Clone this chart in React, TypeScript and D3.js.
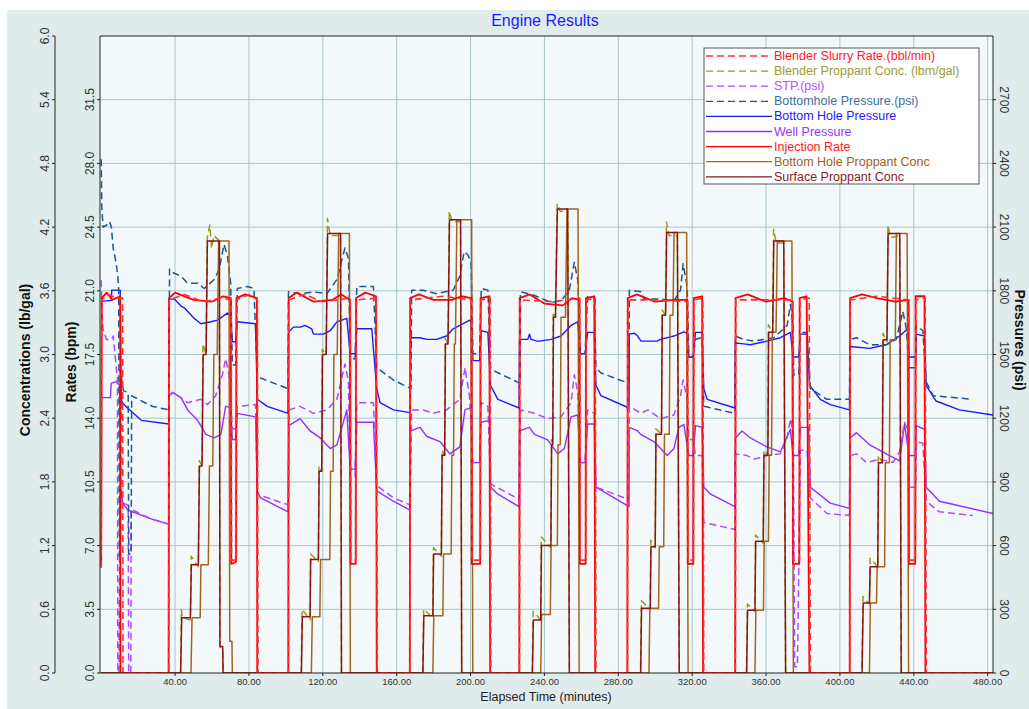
import React from 'react';
import * as d3 from 'd3';

type Pt = [number, number];

// ---- axis ticks ----
const timeTicks = [40, 80, 120, 160, 200, 240, 280, 320, 360, 400, 440, 480];
const rateTicks = [0, 3.5, 7, 10.5, 14, 17.5, 21, 24.5, 28, 31.5];
const concTicks = [0, 0.6, 1.2, 1.8, 2.4, 3.0, 3.6, 4.2, 4.8, 5.4, 6.0];
const pressureTicks = [0, 300, 600, 900, 1200, 1500, 1800, 2100, 2400, 2700];

// ---- series (time in minutes) ----
const blenderSlurryRate: Pt[] = [
  [0, 5.8], [0.3, 20.5], [4, 20.8], [8, 20.6], [11.6, 20.6], [11.8, 0],
  [36.6, 0], [36.8, 20.5], [45, 20.8], [55, 20.4], [65, 20.6], [70.4, 20.5], [70.6, 6.2], [73.2, 6.2], [73.4, 20.5], [80, 20.8], [84.6, 20.5], [84.9, 0],
  [101.4, 0], [101.6, 20.5], [110, 20.8], [120, 20.4], [134.9, 20.6], [135.2, 6.2], [137.9, 6.2], [138.2, 20.5], [149, 20.6], [149.5, 0],
  [167.2, 0], [167.4, 20.5], [185, 20.7], [200.5, 20.5], [200.8, 6.2], [205.3, 6.2], [205.6, 20.5], [210.6, 20.6], [211, 0],
  [226.5, 0], [226.7, 20.5], [245, 20.4], [259.1, 20.6], [259.4, 6.2], [262.4, 6.2], [262.7, 20.5], [267.5, 20.6], [267.9, 0],
  [285, 0], [285.2, 20.5], [300, 20.5], [317.5, 20.4], [317.8, 6.2], [320.7, 6.2], [321, 20.5], [325.8, 20.6], [326.3, 0],
  [343.4, 0], [343.6, 20.5], [360, 20.5], [374.5, 20.5], [374.8, 6.2], [378.1, 6.2], [378.4, 20.5], [383.4, 20.6], [384, 0],
  [405.4, 0], [405.6, 20.5], [420, 20.7], [437.3, 20.5], [437.6, 6.2], [440.9, 6.2], [441.2, 20.5], [446.2, 20.6], [446.8, 0], [482.9, 0],
];

const injectionRate: Pt[] = [
  [0, 5.8], [0.3, 20.6], [3, 20.9], [6, 20.5], [10.3, 20.7], [10.4, 0],
  [36.5, 0], [36.7, 20.6], [40, 20.9], [50, 20.5], [60, 20.4], [66, 20.7], [70.2, 20.6], [70.4, 6.0], [73.0, 6.1], [73.2, 20.6], [78, 20.8], [84.3, 20.6], [84.5, 0],
  [101.3, 0], [101.5, 20.6], [106, 20.9], [115, 20.4], [125, 20.5], [130, 20.8], [134.8, 20.5], [135, 6.0], [137.8, 6.0], [138, 20.6], [143, 20.9], [148.8, 20.7], [149.2, 0],
  [167.1, 0], [167.3, 20.6], [172, 20.8], [180, 20.5], [190, 20.5], [195, 20.7], [200.4, 20.6], [200.6, 6.0], [205.2, 6.0], [205.4, 20.6], [210.2, 20.7], [210.6, 0],
  [226.4, 0], [226.6, 20.6], [232, 20.8], [240, 20.3], [250, 20.2], [255, 20.6], [259, 20.5], [259.2, 6.0], [262.3, 6.0], [262.5, 20.6], [267, 20.7], [267.5, 0],
  [284.9, 0], [285.1, 20.6], [290, 20.8], [300, 20.4], [310, 20.5], [317.4, 20.5], [317.6, 6.0], [320.6, 6.0], [320.8, 20.6], [325.4, 20.7], [325.9, 0],
  [343.3, 0], [343.5, 20.6], [350, 20.8], [360, 20.4], [370, 20.6], [374.4, 20.4], [374.6, 6.0], [378, 6.0], [378.2, 20.6], [382, 20.7], [383.5, 0],
  [405.3, 0], [405.5, 20.6], [412, 20.8], [420, 20.6], [430, 20.4], [437.2, 20.5], [437.4, 6.0], [440.8, 6.0], [441, 20.7], [445.8, 20.7], [446.3, 0], [482.9, 0],
];

const blenderProppantConc: Pt[] = [
  [0, 0], [43.0, 0], [43.4, 0.6], [44, 0.52], [48.3, 0.5], [48.7, 1.1], [52.6, 1.0], [53.1, 2.0], [54.6, 1.95], [55.1, 3.1], [56.8, 3.0], [57.4, 4.1], [58.8, 4.22], [59.8, 4.0], [61, 4.12], [64, 4.07], [64.3, 0.25], [65.8, 0.2], [66, 0],
  [108.3, 0], [108.8, 0.6], [113.1, 0.5], [113.4, 1.12], [117.6, 1.05], [117.9, 1.95], [119.4, 1.9], [119.7, 3.05], [121.8, 3.0], [122.5, 4.28], [124, 4.12], [129.6, 4.12], [130.1, 0],
  [174.1, 0], [174.6, 0.6], [179.6, 0.52], [179.9, 1.18], [184.2, 1.1], [184.5, 2.1], [186, 2.05], [186.3, 3.15], [187.8, 3.1], [188.5, 4.35], [190, 4.25], [194.6, 4.25], [195.2, 0],
  [233.4, 0], [233.9, 0.58], [238, 0.5], [238.3, 1.28], [243.5, 1.18], [243.8, 2.2], [244.5, 2.15], [244.8, 3.4], [246, 3.35], [246.9, 4.42], [248.5, 4.35], [252.6, 4.35], [253.5, 0],
  [292, 0], [292.5, 0.68], [297.3, 0.6], [297.6, 1.25], [300, 1.18], [300.3, 2.3], [303.4, 2.25], [303.7, 3.42], [305.6, 3.37], [306.1, 4.25], [307.5, 4.12], [312, 4.12], [313, 0],
  [349.4, 0], [349.9, 0.65], [354, 0.58], [354.3, 1.3], [358.5, 1.22], [358.8, 2.1], [361, 2.05], [361.3, 3.28], [363.6, 3.2], [364.1, 4.18], [365.5, 4.05], [369.6, 4.05], [370.6, 0],
  [411.9, 0], [412.5, 0.72], [416, 0.65], [416.3, 1.08], [420.5, 1.0], [420.8, 2.05], [423, 1.98], [423.3, 3.2], [425.5, 3.12], [426, 4.22], [427.5, 4.1], [432.4, 4.12], [433.2, 0], [482.9, 0],
];

const surfaceProppantConc: Pt[] = [
  [0, 0], [43.0, 0], [43.6, 0.52], [48.3, 0.52], [48.8, 1.02], [52.6, 1.02], [53.2, 1.95], [54.6, 1.95], [55.2, 3.0], [56.8, 3.0], [57.5, 4.07], [64.0, 4.07], [64.3, 0.25], [65.8, 0.25], [66.0, 0],
  [108.4, 0], [108.9, 0.53], [113.1, 0.53], [113.4, 1.07], [117.6, 1.07], [118, 1.9], [119.4, 1.9], [119.8, 3.0], [121.8, 3.0], [122.6, 4.14], [129.6, 4.14], [130.1, 0],
  [174.2, 0], [174.7, 0.54], [179.6, 0.54], [180, 1.12], [184.2, 1.12], [184.6, 2.05], [186, 2.05], [186.4, 3.1], [187.8, 3.1], [188.6, 4.27], [194.6, 4.27], [195.2, 0],
  [233.5, 0], [234, 0.5], [238, 0.5], [238.4, 1.2], [243.5, 1.2], [243.9, 2.15], [244.5, 2.15], [244.9, 3.35], [246, 3.35], [247, 4.37], [252.6, 4.37], [253.5, 0],
  [292.1, 0], [292.6, 0.61], [297.3, 0.61], [297.7, 1.19], [300, 1.19], [300.4, 2.25], [303.4, 2.25], [303.8, 3.37], [305.6, 3.37], [306.2, 4.15], [312, 4.15], [313, 0],
  [349.5, 0], [350, 0.59], [354, 0.59], [354.4, 1.24], [358.5, 1.24], [358.9, 2.05], [361, 2.05], [361.4, 3.21], [363.6, 3.21], [364.2, 4.07], [369.6, 4.07], [370.6, 0],
  [412, 0], [412.6, 0.66], [416, 0.66], [416.4, 1.0], [420.5, 1.0], [420.9, 1.98], [423, 1.98], [423.4, 3.14], [425.5, 3.14], [426.1, 4.14], [432.4, 4.14], [433.2, 0], [482.9, 0],
];

const bottomHoleProppantConc: Pt[] = [
  [0, 0], [48.6, 0], [49.2, 0.52], [53.6, 0.52], [54.0, 1.02], [58.0, 1.02], [58.6, 1.95], [60.4, 1.95], [61.0, 3.0], [62.8, 3.0], [63.6, 4.07], [69.2, 4.07], [69.6, 0.3], [70.8, 0.3], [71.0, 0],
  [113.8, 0], [114.3, 0.53], [118.4, 0.53], [118.8, 1.07], [123.8, 1.07], [124.2, 1.9], [125.6, 1.9], [126, 3.0], [127.8, 3.0], [128.6, 4.14], [134.4, 4.14], [134.9, 0],
  [179.6, 0], [180.1, 0.54], [185, 0.54], [185.4, 1.12], [189.5, 1.12], [189.9, 2.05], [190.8, 2.05], [191.2, 3.1], [191.8, 3.1], [192.6, 4.27], [200.6, 4.27], [201.2, 0],
  [238, 0], [238.5, 0.55], [243.2, 0.55], [243.6, 1.2], [247, 1.2], [247.4, 2.15], [248.6, 2.15], [249, 3.35], [251.4, 3.35], [252.2, 4.37], [258.2, 4.37], [258.8, 0],
  [296.6, 0], [297.1, 0.61], [301.8, 0.61], [302.2, 1.19], [304.6, 1.19], [305, 2.25], [307.6, 2.25], [308, 3.37], [309.6, 3.37], [310.2, 4.15], [317, 4.15], [317.8, 0],
  [354, 0], [354.5, 0.59], [358.6, 0.59], [359, 1.24], [361.3, 1.24], [361.7, 2.05], [363, 2.05], [363.4, 3.21], [365.4, 3.21], [366.1, 4.07], [374, 4.07], [374.8, 0],
  [416, 0], [416.5, 0.66], [419.8, 0.66], [420.2, 1.0], [424.2, 1.0], [424.6, 1.98], [426.8, 1.98], [427.2, 3.14], [430, 3.14], [430.6, 4.14], [436.4, 4.14], [437.2, 0], [482.9, 0],
];

const stp: Pt[] = [
  [0, 1850], [0.4, 1700], [1, 1620], [2.8, 1571], [5.5, 1571], [6.5, 1587], [8.2, 1438], [8.8, 1380], [9, 0], [9.6, 0], [10.2, 840], [11.8, 800], [14.6, 790], [14.9, 0], [16, 0], [16.3, 770], [27, 726], [36.6, 701],
  [36.8, 1306], [38.7, 1319], [43.2, 1297], [46.8, 1273], [54, 1289], [57.6, 1264], [62, 1306], [65.6, 1405], [67.4, 1480], [69.2, 1405], [70.1, 1273], [71, 1150], [72.8, 1150], [73.7, 1256], [83.6, 1264], [84.5, 842], [90, 825], [101.4, 792],
  [101.6, 1239], [107.7, 1256], [114.9, 1223], [122.2, 1239], [127.6, 1289], [132, 1455], [133.9, 1372], [134.8, 925], [137.5, 925], [138.4, 1273], [147.4, 1273], [149.2, 883], [158.2, 825], [167.2, 792],
  [168.1, 1239], [174.4, 1239], [179.8, 1223], [187, 1239], [194.2, 1289], [197, 1438], [199.5, 1300], [201.3, 991], [204.9, 991], [205.8, 1273], [209.4, 1256], [210.8, 891], [226.5, 817],
  [227, 1239], [234.6, 1223], [241.8, 1198], [249, 1206], [254.4, 1273], [256.2, 1405], [258, 1322], [259.5, 991], [262, 991], [263.4, 1239], [267, 1223], [267.9, 875], [285.8, 817],
  [286, 1256], [292.3, 1223], [296, 1239], [302.9, 1198], [310.1, 1215], [313.7, 1306], [315.1, 1380], [317.3, 1289], [318.2, 1100], [320.5, 1100], [321.8, 1024], [325.4, 1024], [326.3, 709], [343.2, 676],
  [343.4, 1032], [349.7, 1024], [353.4, 1007], [360.5, 1024], [367.8, 1032], [371.4, 1107], [373.2, 1198], [374.8, 1124], [375.5, 30], [377, 30], [378.6, 1049], [382.2, 1049], [384, 825], [393, 751], [405.2, 742],
  [405.4, 1024], [409, 1032], [414.4, 991], [421.5, 1007], [428.7, 991], [432.3, 1041], [435, 1181], [436.8, 1140], [437.4, 875], [441, 875], [441.3, 1090], [444.9, 1082], [446.7, 809], [453.9, 759], [471.9, 742],
];

const bottomholePressurePsi: Pt[] = [
  [0, 2420], [0.3, 2200], [1, 2100], [3, 2110], [4.5, 2126], [5.5, 2100], [6.5, 2000], [8, 1935], [9, 1869], [9.5, 1800], [9.8, 550], [10.4, 550], [10.8, 1400], [12, 1330], [14.6, 1320], [14.9, 560], [16.2, 560], [16.5, 1306], [22, 1280], [28, 1255], [36.8, 1239],
  [37, 1902], [38.7, 1886], [43.2, 1869], [46.8, 1836], [52.2, 1836], [55.8, 1811], [61.2, 1853], [63.9, 1902], [66.5, 2018], [68.3, 1968], [70.1, 1836], [71, 1450], [72.8, 1450], [73.7, 1811], [79.1, 1820], [82.7, 1811], [84.5, 1405], [86.3, 1389], [101.2, 1339],
  [101.4, 1795], [107.7, 1786], [114.9, 1795], [122.2, 1786], [127.6, 1853], [132, 2002], [133.9, 1952], [134.8, 1480], [137.5, 1480], [138.4, 1820], [147.4, 1820], [149.2, 1438], [158.2, 1380], [167.8, 1339],
  [168.1, 1803], [174.4, 1803], [181.6, 1786], [190.6, 1803], [194.2, 1869], [196.5, 1985], [198.5, 1970], [200.3, 1935], [201.3, 1504], [204.9, 1504], [205.8, 1811], [209.4, 1803], [210.8, 1438], [213, 1422], [226.8, 1364],
  [227, 1795], [234.6, 1778], [243.6, 1745], [249, 1753], [253.5, 1803], [256.2, 1935], [258, 1853], [259.5, 1504], [262, 1504], [263.4, 1778], [267, 1770], [267.9, 1438], [270.6, 1413], [285.8, 1364],
  [286, 1803], [292.3, 1795], [294, 1761], [302.9, 1761], [310.1, 1753], [313.7, 1803], [315.1, 1927], [317.3, 1820], [318.2, 1488], [320.5, 1488], [321.8, 1571], [325.4, 1580], [326.3, 1256], [343.2, 1223],
  [343.4, 1587], [347.9, 1571], [353.4, 1563], [364.2, 1579], [371.4, 1637], [373.2, 1736], [374.6, 1637], [375, 1405], [377.7, 1405], [378.6, 1604], [382.2, 1604], [384, 1339], [393, 1289], [405.2, 1289],
  [405.4, 1571], [409, 1579], [416.2, 1546], [425.1, 1546], [430.5, 1571], [434.1, 1703], [436, 1621], [437.4, 1438], [441, 1438], [441.3, 1637], [444.9, 1612], [446.7, 1372], [450.5, 1306], [471.9, 1289],
];

const bottomHolePressure: Pt[] = [
  [0, 1750], [5.5, 1755], [5.7, 1803], [10.3, 1803], [10.8, 1290], [11.5, 1273], [14, 1250], [21.7, 1190], [36.6, 1173],
  [36.8, 1761], [39.6, 1761], [43.2, 1728], [45, 1720], [50.4, 1670], [54, 1645], [59.4, 1654], [63, 1662], [68.3, 1695], [70.1, 1680], [71, 1560], [72.8, 1560], [73.7, 1654], [83.6, 1645], [84.5, 1289], [89.9, 1256], [101.2, 1223],
  [101.4, 1604], [104.1, 1629], [107.7, 1629], [110.4, 1637], [114, 1621], [114.9, 1596], [120.4, 1596], [124, 1612], [127.6, 1654], [133, 1670], [134.8, 1504], [137.5, 1504], [138.4, 1621], [146.5, 1621], [149.2, 1339], [151, 1273], [158.2, 1239], [167.4, 1226],
  [167.6, 1579], [172.6, 1579], [176.2, 1571], [181.6, 1571], [187, 1587], [190.6, 1621], [194.2, 1637], [199.6, 1662], [200.4, 1650], [201.3, 1471], [204.9, 1471], [205.8, 1612], [209.4, 1604], [210.8, 1355], [214.8, 1289], [226.3, 1248],
  [226.5, 1571], [231, 1571], [231.9, 1596], [232.8, 1571], [236.4, 1562], [243.6, 1571], [249, 1587], [254.4, 1637], [258, 1654], [259.5, 1504], [262, 1504], [263.4, 1604], [267, 1604], [267.9, 1355], [270.6, 1306], [285.8, 1248],
  [286, 1596], [288.7, 1600], [290.5, 1587], [292.3, 1563], [301, 1563], [302.9, 1571], [310.1, 1587], [315.5, 1607], [317.3, 1600], [318.2, 1488], [320.5, 1488], [321.8, 1604], [325.4, 1604], [326.3, 1339], [328.1, 1289], [343.2, 1248],
  [343.4, 1554], [347.9, 1550], [351.5, 1546], [360.5, 1563], [367.8, 1579], [373.2, 1604], [374.6, 1488], [377.7, 1488], [378.6, 1596], [382.2, 1596], [383.6, 1355], [389.4, 1289], [394.8, 1264], [405.2, 1239],
  [405.4, 1538], [416.2, 1529], [425.1, 1546], [432.3, 1587], [436.8, 1621], [437.4, 1488], [441, 1488], [441.3, 1596], [445.8, 1587], [446.7, 1355], [452.1, 1281], [464.7, 1239], [482.9, 1215],
];

const wellPressure: Pt[] = [
  [0, 1297], [5, 1297], [5.4, 1364], [8.2, 1372], [10, 1355], [10.5, 870], [11.7, 800], [14.5, 767], [27, 726], [36.6, 701],
  [36.8, 1306], [38.7, 1322], [43.2, 1297], [46.8, 1239], [52.2, 1190], [56.7, 1124], [61.2, 1107], [64.8, 1124], [67.4, 1256], [70.1, 1250], [71, 1100], [72.8, 1100], [73.7, 1223], [83.6, 1206], [84.5, 858], [86.3, 825], [101.2, 759],
  [101.6, 1165], [107.7, 1198], [113.1, 1140], [118.6, 1107], [124, 1057], [127.6, 1074], [133, 1239], [134.8, 960], [137.5, 960], [138.4, 1181], [147.4, 1181], [149.2, 858], [158.2, 809], [167.2, 767],
  [167.6, 1140], [172.6, 1157], [176.2, 1115], [183.4, 1090], [188.8, 1032], [194.2, 1065], [197, 1240], [200.4, 1250], [200.8, 991], [205, 991], [205.6, 1181], [210.4, 1190], [210.9, 875], [214.8, 842], [226.2, 784],
  [226.5, 1140], [231.9, 1157], [234.6, 1124], [241.8, 1098], [247.2, 1032], [250.8, 1057], [254.4, 1206], [258, 1215], [259.5, 991], [262, 991], [263.4, 1173], [267, 1173], [267.9, 875], [285.8, 784],
  [286, 1157], [290.5, 1140], [292.1, 1124], [299.3, 1090], [306.5, 1024], [310.1, 1057], [312.8, 1157], [315.5, 1170], [318.2, 1024], [320.5, 1024], [321.8, 1165], [325.4, 1157], [326.3, 875], [330, 842], [343.2, 784],
  [343.4, 1107], [347, 1140], [351.5, 1107], [360.5, 1065], [367.8, 1041], [373.2, 1148], [374.6, 1024], [377.7, 1024], [378.6, 1157], [383.1, 1157], [384, 875], [394.8, 800], [405.2, 775],
  [405.4, 1107], [409, 1132], [416.2, 1074], [425.1, 1032], [432.3, 999], [435, 1173], [437.4, 1024], [441, 1024], [441.3, 1165], [445.8, 1148], [446.7, 875], [453.9, 809], [482.9, 751],
];

// ---- layout ----
const W = 1029;
const H = 709;
const plotLeft = 100;
const plotRight = 993;
const plotTop = 36;
const plotBottom = 673;

const x = d3.scaleLinear().domain([-0.65, 482.9]).range([plotLeft, plotRight]);
const yRate = d3.scaleLinear().domain([0, 35]).range([plotBottom, plotTop]);
const yConc = d3.scaleLinear().domain([0, 6]).range([plotBottom, plotTop]);
const yPres = d3.scaleLinear().domain([0, 3000]).range([plotBottom, plotTop]);

type Axis = 'rate' | 'conc' | 'pres';
const axisScale: Record<Axis, d3.ScaleLinear<number, number>> = { rate: yRate, conc: yConc, pres: yPres };

interface Series {
  label: string;
  data: Pt[];
  axis: Axis;
  color: string;
  textColor: string;
  dash?: string;
  width: number;
}

// legend order
const legendSeries: Series[] = [
  { label: 'Blender Slurry Rate.(bbl/min)', data: blenderSlurryRate, axis: 'rate', color: '#ff3030', textColor: '#ff2020', dash: '7,4', width: 1.6 },
  { label: 'Blender Proppant Conc. (lbm/gal)', data: blenderProppantConc, axis: 'conc', color: '#9a9a1e', textColor: '#9c9c2c', dash: '7,4', width: 1.5 },
  { label: 'STP.(psi)', data: stp, axis: 'pres', color: '#b048ff', textColor: '#b050ff', dash: '7,4', width: 1.5 },
  { label: 'Bottomhole Pressure.(psi)', data: bottomholePressurePsi, axis: 'pres', color: '#1d5593', textColor: '#3a6ea5', dash: '7,4', width: 1.5 },
  { label: 'Bottom Hole Pressure', data: bottomHolePressure, axis: 'pres', color: '#1a1aff', textColor: '#2020ff', width: 1.4 },
  { label: 'Well Pressure', data: wellPressure, axis: 'pres', color: '#9130ff', textColor: '#9933ff', width: 1.4 },
  { label: 'Injection Rate', data: injectionRate, axis: 'rate', color: '#ff0000', textColor: '#ff2020', width: 1.8 },
  { label: 'Bottom Hole Proppant Conc', data: bottomHoleProppantConc, axis: 'conc', color: '#a3641c', textColor: '#a06018', width: 1.5 },
  { label: 'Surface Proppant Conc', data: surfaceProppantConc, axis: 'conc', color: '#8b1414', textColor: '#8b1a1a', width: 1.5 },
];

// drawing order (later on top)
const drawOrder = [5, 4, 2, 3, 1, 7, 8, 6, 0];

const FONT = '"Liberation Sans", Arial, sans-serif';

function pathFor(s: Series): string {
  const ys = axisScale[s.axis];
  const gen = d3.line<Pt>().x((d) => x(d[0])).y((d) => ys(d[1]));
  return gen(s.data) || '';
}

export default function App() {
  const legendX = 704;
  const legendY = 48;
  const rowH = 15.1;
  return (
    <svg width={W} height={H} style={{ position: 'absolute', left: 0, top: 0 }} fontFamily={FONT}>
      <rect x={0} y={0} width={W} height={H} fill="#ffffff" />
      <rect x={7} y={10} width={W - 7} height={H - 10} fill="#e0ebeb" />
      <text x={545} y={26} textAnchor="middle" fontSize={16} fill="#1a1aff">Engine Results</text>

      <defs>
        <clipPath id="plotClip">
          <rect x={plotLeft} y={plotTop} width={plotRight - plotLeft} height={plotBottom - plotTop} />
        </clipPath>
      </defs>

      <rect x={plotLeft} y={plotTop} width={plotRight - plotLeft} height={plotBottom - plotTop} fill="#f3f9fb" />

      {/* grid */}
      {timeTicks.map((t) => (
        <line key={'gx' + t} x1={x(t)} x2={x(t)} y1={plotTop} y2={plotBottom} stroke="#a8c7ca" strokeWidth={1} />
      ))}
      {rateTicks.filter((v) => v > 0).map((v) => (
        <line key={'gy' + v} x1={plotLeft} x2={plotRight} y1={yRate(v)} y2={yRate(v)} stroke="#a8c7ca" strokeWidth={1} />
      ))}

      {/* series */}
      <g clipPath="url(#plotClip)" fill="none" strokeLinejoin="round">
        {drawOrder.map((i) => {
          const s = legendSeries[i];
          return (
            <path key={s.label} d={pathFor(s)} stroke={s.color} strokeWidth={s.width} strokeDasharray={s.dash} />
          );
        })}
      </g>

      {/* frame */}
      <line x1={plotLeft} x2={plotRight} y1={plotTop} y2={plotTop} stroke="#222" />
      <line x1={plotLeft} x2={plotRight} y1={plotBottom} y2={plotBottom} stroke="#222" />
      <line x1={plotLeft} x2={plotLeft} y1={plotTop} y2={plotBottom} stroke="#222" />
      <line x1={plotRight} x2={plotRight} y1={plotTop} y2={plotBottom} stroke="#222" />

      {/* outer concentration axis */}
      <line x1={55} x2={55} y1={plotTop} y2={plotBottom} stroke="#222" />
      {concTicks.map((v) => (
        <g key={'c' + v}>
          <line x1={52} x2={55} y1={yConc(v)} y2={yConc(v)} stroke="#222" />
          <text transform={`translate(45,${yConc(v)}) rotate(-90)`} textAnchor="middle" dominantBaseline="central" fontSize={12} fill="#333">{v.toFixed(1)}</text>
        </g>
      ))}
      <text transform="translate(25,360) rotate(-90)" textAnchor="middle" dominantBaseline="central" fontSize={14} fontWeight="bold" fill="#111">Concentrations (lb/gal)</text>

      {/* rate axis */}
      {rateTicks.map((v) => (
        <g key={'r' + v}>
          <line x1={97} x2={100} y1={yRate(v)} y2={yRate(v)} stroke="#222" />
          <text transform={`translate(90,${yRate(v)}) rotate(-90)`} textAnchor="middle" dominantBaseline="central" fontSize={12} fill="#333">{v.toFixed(1)}</text>
        </g>
      ))}
      <text transform="translate(71,362) rotate(-90)" textAnchor="middle" dominantBaseline="central" fontSize={14} fontWeight="bold" fill="#111">Rates (bpm)</text>

      {/* pressure axis */}
      {pressureTicks.map((v) => (
        <g key={'p' + v}>
          <line x1={993} x2={996} y1={yPres(v)} y2={yPres(v)} stroke="#222" />
          <text transform={`translate(1004,${yPres(v)}) rotate(90)`} textAnchor="middle" dominantBaseline="central" fontSize={12} fill="#333">{String(v)}</text>
        </g>
      ))}
      <text transform="translate(1020,340) rotate(90)" textAnchor="middle" dominantBaseline="central" fontSize={14} fontWeight="bold" fill="#111">Pressures (psi)</text>

      {/* time axis */}
      {timeTicks.map((t) => (
        <g key={'t' + t}>
          <line x1={x(t)} x2={x(t)} y1={plotBottom} y2={plotBottom + 3} stroke="#222" />
          <text x={x(t)} y={685} textAnchor="middle" fontSize={9.5} fill="#333">{t.toFixed(2)}</text>
        </g>
      ))}
      <text x={546} y={701} textAnchor="middle" fontSize={12.5} fill="#222">Elapsed Time (minutes)</text>

      {/* legend */}
      <rect x={legendX} y={legendY} width={275} height={136} fill="#ffffff" stroke="#555" />
      {legendSeries.map((s, i) => {
        const cy = legendY + 8 + i * rowH;
        return (
          <g key={'lg' + i}>
            <line x1={legendX + 2} x2={legendX + 68} y1={cy} y2={cy} stroke={s.color} strokeWidth={1.3} strokeDasharray={s.dash} />
            <text x={legendX + 70} y={cy} dominantBaseline="central" fontSize={12.5} fill={s.textColor}>{s.label}</text>
          </g>
        );
      })}
    </svg>
  );
}
